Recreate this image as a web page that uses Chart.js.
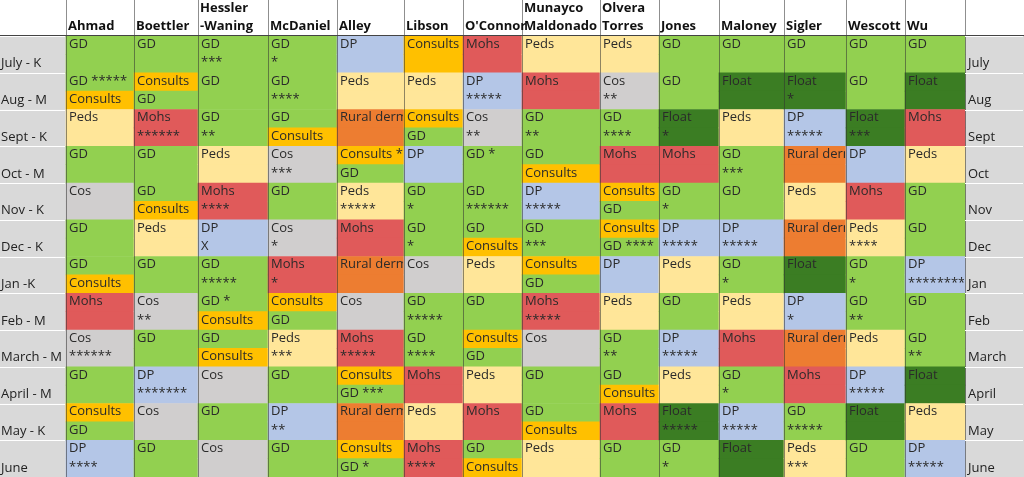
<!DOCTYPE html>
<html><head><meta charset="utf-8">
<script src="https://cdn.jsdelivr.net/npm/chart.js@4"></script>
<style>html,body{margin:0;padding:0;background:#fff}#w{width:1024px;height:477px}</style>
</head><body><div id="w"><canvas id="c"></canvas></div>
<script>
const names = ["Ahmad","Boettler","Hessler\n-Waning","McDaniel","Alley","Libson","O'Connor","Munayco\nMaldonado","Olvera\nTorres","Jones","Maloney","Sigler","Wescott","Wu"];
const rowLabels = ["July - K","Aug - M","Sept - K","Oct - M","Nov - K","Dec - K","Jan -K","Feb - M","March - M","April - M","May - K","June"];
const rightLabels = ["July","Aug","Sept","Oct","Nov","Dec","Jan","Feb","March","April","May","June"];
// "A|B": whole cell, second text line B; "A>B": top half A, bottom half B
const ahmad = ["GD","GD *****>Consults","Peds","GD","Cos","GD","GD>Consults","Mohs","Cos|******","GD","Consults>GD","DP|****"];
const boettler = ["GD","Consults>GD","Mohs|******","GD","GD>Consults","Peds","GD","Cos|**","GD","DP|*******","Cos","GD"];
const hessler = ["GD|***","GD","GD|**","Peds","Mohs|****","DP|X","GD|*****","GD *>Consults","GD>Consults","Cos","GD","Cos"];
const mcdaniel = ["GD|*","GD|****","GD>Consults","Cos|***","GD","Cos|*","Mohs|*","Consults>GD","Peds|***","GD","DP|**","GD"];
const alley = ["DP","Peds","Rural derm","Consults *>GD","Peds|*****","Mohs","Rural derm","Cos","Mohs|*****","Consults>GD ***","Rural derm","Consults>GD *"];
const libson = ["Consults","Peds","Consults>GD","DP","GD|*","GD|*","Cos","GD|*****","GD|****","Mohs","Peds","Mohs|****"];
const oconnor = ["Mohs","DP|*****","Cos|**","GD *","GD|******","GD>Consults","Peds","GD","Consults>GD","Peds","Mohs","GD>Consults"];
const munayco = ["Peds","Mohs","GD|**","GD>Consults","DP|*****","GD|***","Consults>GD","Mohs|*****","Cos","GD","GD>Consults","Peds"];
const olvera = ["Peds","Cos|**","GD|****","Mohs","Consults>GD","Consults>GD ****","DP","Peds","GD|**","GD>Consults","Mohs","GD"];
const jones = ["GD","GD","Float|*","Mohs","GD|*","DP|*****","Peds","GD","DP|*****","Peds","Float|*****","GD|*"];
const maloney = ["GD","Float","Peds","GD|***","GD","DP|*****","GD|*","Peds","Mohs","GD|*","DP|*****","Float"];
const sigler = ["GD","Float|*","DP|*****","Rural derm","Peds","Rural derm","Float","DP|*","Rural derm","Mohs","GD|*****","Peds|***"];
const wescott = ["GD","GD","Float|***","DP","Mohs","Peds|****","GD|*","GD|**","Peds","DP|*****","Float","GD"];
const wu = ["GD","Float","Mohs","Peds","GD","GD","DP|********","GD","GD|**","Float","Peds","DP|*****"];
const schedule = [ahmad,boettler,hessler,mcdaniel,alley,libson,oconnor,munayco,olvera,jones,maloney,sigler,wescott,wu];

// layout (not data)
const colEdges = [0,66,134,198,268,337,404,463,522,600,659,719,784,846,905,965,1024];
const colors = {GD:"#92d050",Float:"#3b7d23",Consults:"#ffc000",Peds:"#ffe699",Mohs:"#e05a5a",DP:"#b4c6e7",Cos:"#d0cece",Rural:"#ed7d31"};
const colorOf = t => colors[t.split(" ")[0]];

const halfCats = [];
rowLabels.forEach((r,i)=>{halfCats.push("r"+i+"a");halfCats.push("r"+i+"b");});
const bars=[], bg=[], meta=[];
function addBar(x0,x1,cat,col,m){bars.push({x:[x0,x1],y:cat});bg.push(col);meta.push(m);}
rowLabels.forEach((r,i)=>{
  addBar(colEdges[0],colEdges[1],"r"+i+"a","#d9d9d9",null);
  addBar(colEdges[0],colEdges[1],"r"+i+"b","#d9d9d9",null);
  addBar(colEdges[15],colEdges[16],"r"+i+"a","#d9d9d9",null);
  addBar(colEdges[15],colEdges[16],"r"+i+"b","#d9d9d9",null);
});
schedule.forEach((col,c)=>{
  col.forEach((cell,r)=>{
    const x0=colEdges[c+1], x1=colEdges[c+2];
    if(cell.includes(">")){
      const [a,b]=cell.split(">");
      addBar(x0,x1,"r"+r+"a",colorOf(a),{t:a,c,r,h:0});
      addBar(x0,x1,"r"+r+"b",colorOf(b),{t:b,c,r,h:1});
    } else {
      const [a,b]=cell.split("|");
      addBar(x0,x1,"r"+r+"a",colorOf(a),{t:a,c,r,h:0});
      addBar(x0,x1,"r"+r+"b",colorOf(a),b?{t:b,c,r,h:1}:null);
    }
  });
});

const FONT='13px "Open Sans", "Liberation Sans", sans-serif';
const textPlugin={id:"txt",afterDatasetsDraw(chart){
  const ctx=chart.ctx, xs=chart.scales.x, ys=chart.scales.y;
  const half=(ys.getPixelForValue(1)-ys.getPixelForValue(0));
  ctx.save();
  // vertical separators
  ctx.strokeStyle="#333";ctx.lineWidth=1;
  for(let k=1;k<16;k++){const x=Math.round(xs.getPixelForValue(colEdges[k]))+0.5;
    ctx.beginPath();ctx.moveTo(x,0);ctx.lineTo(x,k==1||k==15?chart.chartArea.bottom:chart.chartArea.bottom);ctx.globalAlpha=0.55;ctx.stroke();}
  ctx.globalAlpha=1;
  ctx.strokeStyle="#fff";
  rowLabels.forEach((r,i)=>{const y=Math.round(ys.getPixelForValue("r"+i+"a")-half/2)+0.5;
    [[0,1],[15,16]].forEach(([a,b])=>{ctx.beginPath();ctx.moveTo(xs.getPixelForValue(colEdges[a]),y);ctx.lineTo(xs.getPixelForValue(colEdges[b])-1,y);ctx.stroke();});});
  ctx.fillStyle="#222";ctx.textBaseline="middle";ctx.font=FONT;
  meta.forEach((m,i)=>{ if(!m) return;
    const x0=xs.getPixelForValue(colEdges[m.c+1]), x1=xs.getPixelForValue(colEdges[m.c+2]);
    const yc=ys.getPixelForValue("r"+m.r+(m.h?"b":"a"));
    ctx.save();ctx.beginPath();ctx.rect(x0,yc-half/2,x1-x0-1,half);ctx.clip();
    ctx.fillStyle="#2a2a2a";ctx.fillText(m.t,x0+3,yc-1);ctx.restore();});
  rowLabels.forEach((r,i)=>{const y=ys.getPixelForValue("r"+i+"b");
    ctx.fillText(r,xs.getPixelForValue(0)+1,y);
    ctx.fillText(rightLabels[i],xs.getPixelForValue(colEdges[15])+3,y);});
  ctx.font='bold 13px "Open Sans", "Liberation Sans", sans-serif';ctx.fillStyle="#111";
  names.forEach((n,c)=>{const x=xs.getPixelForValue(colEdges[c+1])+2;const ls=n.split("\n");
    if(ls.length==2){ctx.fillText(ls[0],x,8);ctx.fillText(ls[1],x,26);}else ctx.fillText(n,x,26);});
  ctx.fillStyle="#444";ctx.fillRect(0,Math.round(chart.chartArea.top)-1,1024,1);
  ctx.restore();}};

new Chart(document.getElementById("c"),{type:"bar",
  data:{labels:halfCats,datasets:[{data:bars,backgroundColor:bg,borderWidth:0,barPercentage:1,categoryPercentage:1,grouped:false}]},
  options:{indexAxis:"y",responsive:true,maintainAspectRatio:false,animation:false,
    layout:{padding:{top:36,left:0,right:0,bottom:0}},
    plugins:{legend:{display:false},tooltip:{enabled:false}},
    scales:{x:{type:"linear",min:0,max:1024,display:false},y:{type:"category",labels:halfCats,display:false,offset:true}}},
  plugins:[textPlugin]});
</script></body></html>
